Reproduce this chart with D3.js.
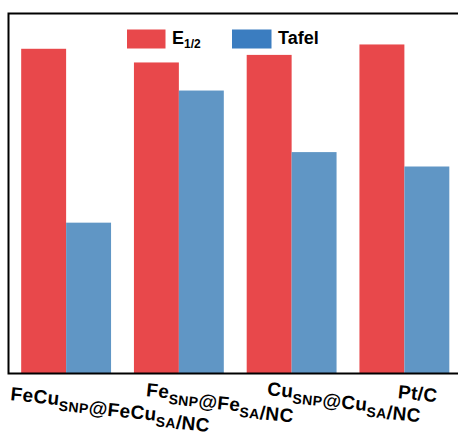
<!DOCTYPE html>
<html>
<head>
<meta charset="utf-8">
<script src="https://cdn.jsdelivr.net/npm/d3@7"></script>
<style>
  html, body { margin: 0; padding: 0; background: #fff; }
  svg { display: block; font-family: Arial, "Liberation Sans", sans-serif; }
</style>
</head>
<body>
<div id="chart"></div>
<script>
// chart data (relative scale 0-100)
const categories = ["FeCu@FeCu", "Fe@Fe", "Cu@Cu", "Pt/C"];
const e12Values = [90.2, 86.4, 88.5, 91.4];
const tafelValues = [41.9, 78.6, 61.5, 57.5];
const seriesNames = ["E", "Tafel"];

// label parts: [text, isSubscript]
const labelParts = [
    [["FeCu", false], ["SNP", true], ["@FeCu", false], ["SA", true], ["/NC", false]],
    [["Fe", false], ["SNP", true], ["@Fe", false], ["SA", true], ["/NC", false]],
    [["Cu", false], ["SNP", true], ["@Cu", false], ["SA", true], ["/NC", false]],
    [["Pt/C", false]]
];

function init() {
    const width = 458;
    const height = 437;
    const redColor = "#e8484b";
    const blueColor = "#6096c5";
    const legendBlue = "#3b7dc0";

    const svg = d3.select("#chart").append("svg")
        .attr("width", width)
        .attr("height", height);

    const left = 8.5, top = 13.5, bottom = 373.5, right = 462;

    const x0 = d3.scaleBand()
        .domain(categories)
        .range([left, right])
        .paddingInner(0.203)
        .paddingOuter(0.1125);

    const x1 = d3.scaleBand()
        .domain(seriesNames)
        .range([0, x0.bandwidth()]);

    const y = d3.scaleLinear()
        .domain([0, 100])
        .range([bottom, top]);

    const rows = categories.map((c, i) => ({cat: c, vals: [e12Values[i], tafelValues[i]]}));

    const groups = svg.selectAll("g.grp")
        .data(rows)
        .join("g")
        .attr("class", "grp")
        .attr("transform", d => `translate(${x0(d.cat)},0)`);

    groups.selectAll("rect")
        .data(d => d.vals.map((v, j) => ({name: seriesNames[j], v: v})))
        .join("rect")
        .attr("x", d => x1(d.name))
        .attr("y", d => y(d.v))
        .attr("width", x1.bandwidth())
        .attr("height", d => y(0) - y(d.v))
        .attr("fill", d => d.name === "E" ? redColor : blueColor);

    // frame
    svg.append("rect")
        .attr("x", left)
        .attr("y", top)
        .attr("width", right + 10 - left)
        .attr("height", bottom - top)
        .attr("fill", "none")
        .attr("stroke", "#000")
        .attr("stroke-width", 2);

    // legend
    const legend = svg.append("g");
    legend.append("rect")
        .attr("x", 127).attr("y", 29.5)
        .attr("width", 38.5).attr("height", 19)
        .attr("fill", redColor);
    const e = legend.append("text")
        .attr("x", 172).attr("y", 44)
        .attr("font-size", 18).attr("font-weight", "bold");
    e.append("tspan").text("E");
    e.append("tspan").attr("font-size", 12).attr("dy", 4).text("1/2");

    legend.append("rect")
        .attr("x", 232).attr("y", 29.5)
        .attr("width", 39.5).attr("height", 19)
        .attr("fill", legendBlue);
    legend.append("text")
        .attr("x", 278).attr("y", 44)
        .attr("font-size", 18).attr("font-weight", "bold")
        .text("Tafel");

    // category labels (subscript shifts pile up, tilted text)
    const labelOffsets = [-56, -33, -25, -7];
    const labelBase = [400, 396, 395, 398];
    categories.forEach((c, i) => {
        const cx = x0(c) + x0.bandwidth() / 2 + labelOffsets[i];
        const t = svg.append("text")
            .attr("x", cx)
            .attr("y", labelBase[i])
            .attr("transform", `rotate(6,${cx},${labelBase[i]})`)
            .attr("font-size", 19)
            .attr("letter-spacing", 0.4)
            .attr("font-weight", "bold");
        labelParts[i].forEach(p => {
            const ts = t.append("tspan").text(p[0]);
            if (p[1]) ts.attr("font-size", 14).attr("dy", 5.5);
        });
    });
}

window.addEventListener("load", init);
</script>
</body>
</html>
